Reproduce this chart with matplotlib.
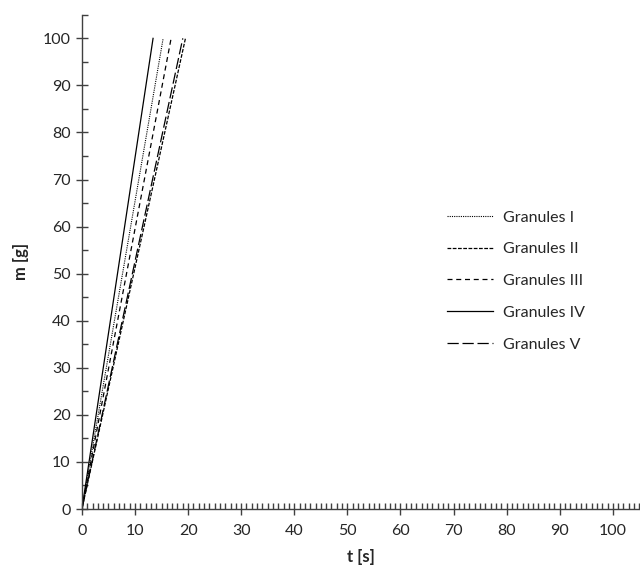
import matplotlib
matplotlib.use("Agg")
import matplotlib.pyplot as plt
from matplotlib.ticker import MultipleLocator

plt.rcParams['font.family'] = ['Lato', 'DejaVu Sans']

# End times [s] at which each granule batch reaches 100 g
labels = ["Granules I", "Granules II", "Granules III", "Granules IV", "Granules V"]
t_start = [0, 0, 0, 0, 0]
t_end = [15.3, 19.5, 16.8, 13.4, 19.0]
m_start = [0, 0, 0, 0, 0]
m_end = [100, 100, 100, 100, 100]

styles = [(0, (1, 1)), (0, (3, 1.2)), (0, (4, 3)), "-", (0, (9, 3))]
widths = [0.8, 0.9, 0.9, 0.9, 0.9]

fig = plt.figure(figsize=(6.4, 5.7), dpi=100)
ax = fig.add_axes([0.128, 0.107, 0.871, 0.867])

for i in range(len(labels)):
    ax.plot([t_start[i], t_end[i]], [m_start[i], m_end[i]], color="black",
            linestyle=styles[i], linewidth=widths[i], label=labels[i])

ax.set_xlim(0, 105)
ax.set_ylim(0, 105)
ax.xaxis.set_major_locator(MultipleLocator(10))
ax.xaxis.set_minor_locator(MultipleLocator(1))
ax.yaxis.set_major_locator(MultipleLocator(10))
ax.yaxis.set_minor_locator(MultipleLocator(5))

for s in ["top", "right"]:
    ax.spines[s].set_visible(False)
for s in ["left", "bottom"]:
    ax.spines[s].set_color("#404040")
    ax.spines[s].set_linewidth(1.0)

ax.tick_params(which="major", direction="inout", length=8, width=1.0,
               color="#404040", labelsize=11.5, labelcolor="#262626")
ax.tick_params(axis="x", which="major", pad=7)
ax.tick_params(axis="y", which="major", pad=4)
ax.tick_params(which="minor", direction="in", length=4, width=1.0, color="#404040")

ax.set_xlabel("t [s]", fontsize=12, fontweight="bold", labelpad=8, color="#262626")
ax.set_ylabel("m [g]", fontsize=12, fontweight="bold", labelpad=10, color="#262626")

ax.legend(loc="center left", bbox_to_anchor=(0.655, 0.4615), frameon=False,
          fontsize=11.5, handlelength=2.9, handletextpad=0.62, labelspacing=1.1,
          borderpad=0, borderaxespad=0, labelcolor="#262626")

plt.savefig("out.png", dpi=100)
